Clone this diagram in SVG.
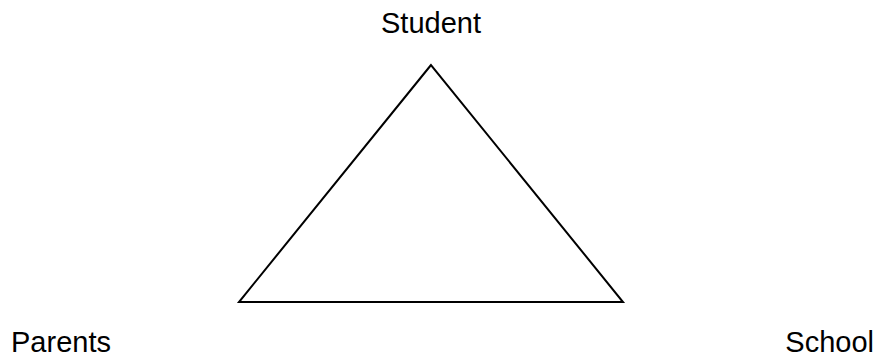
<svg xmlns="http://www.w3.org/2000/svg" width="877" height="358" viewBox="0 0 877 358">
<style>
.lbl{font-family:"Liberation Sans",Arial,sans-serif;font-size:29px;fill:#000}
.edge{fill:none;stroke:#000;stroke-width:2}
</style>
<rect width="877" height="358" fill="#fff"/>
<g id="connectors">
<path class="edge" d="M431,65 L239,302 L623,302 Z" stroke-linejoin="miter"/>
</g>
<g id="student"><text class="lbl" x="431" y="33" text-anchor="middle">Student</text></g>
<g id="parents"><text class="lbl" x="11" y="352">Parents</text></g>
<g id="school"><text class="lbl" x="874" y="352" text-anchor="end">School</text></g>
</svg>
